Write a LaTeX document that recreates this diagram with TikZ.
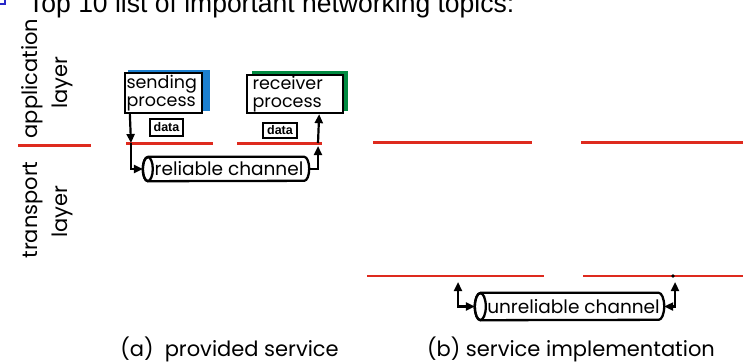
\documentclass[tikz,border=0pt]{standalone}
\usepackage{fontspec}
\setmainfont{Poppins}
\newfontfamily\titlefont{Liberation Sans}
\newfontfamily\datafont{Liberation Sans}
\usetikzlibrary{arrows.meta}

\definecolor{layerred}{RGB}{222,42,30}
\definecolor{procblue}{RGB}{28,128,208}
\definecolor{procgreen}{RGB}{0,138,64}
\definecolor{bulletblue}{RGB}{40,40,200}

\begin{document}
\begin{tikzpicture}[x=1pt,y=-1pt,
  proc/.style={draw=black, line width=2.3pt, fill=white, inner ysep=0pt,
    align=left, font=\fontsize{17.5}{18}\selectfont},
  databox/.style={draw=black, line width=1.8pt, fill=white, inner sep=0pt,
    font=\datafont\bfseries\fontsize{12.5}{12.5}\selectfont},
  chan/.style={inner sep=0pt, font=\fontsize{18.5}{18.5}\selectfont},
  layerlbl/.style={rotate=90, inner sep=0pt, font=\fontsize{21}{21}\selectfont},
  caption/.style={inner sep=0pt, anchor=base, font=\fontsize{21}{21}\selectfont},
  flow/.style={line width=2.2pt, -{Triangle[length=9pt,width=8pt]}},
  flowboth/.style={line width=2.2pt, {Triangle[length=9pt,width=8pt]}-{Triangle[length=9pt,width=8pt]}},
  redline/.style={draw=layerred, line width=3pt},
  tube/.style={line width=2.3pt}
]
\useasboundingbox (0,0) rectangle (743,362);
\clip (0,0) rectangle (743,362);

% heading line of the slide (its upper part runs off the top edge)
\draw[bulletblue, line width=1.4pt] (0,4) -- (5,4) -- (5,-2);
\node[anchor=base west, inner sep=0pt, font=\titlefont\fontsize{26.5}{26.5}\selectfont]
  (title) at (28,12.5) {Top 10 list of important networking topics:};

% layer labels
\node[layerlbl] (applbl) at (32.5,78.5) {application};
\node[layerlbl] (applyr) at (62,82.5)   {layer};
\node[layerlbl] (trnlbl) at (33,210)    {transport};
\node[layerlbl] (trnlyr) at (62,211.5)  {layer};

% application / transport boundary lines
\draw[redline] (18,145) -- (91,145);
\coordinate (aL1) at (126,143);
\coordinate (aL2) at (213,143);
\coordinate (aR1) at (237,143);
\coordinate (aR2) at (322,143);
\draw[redline] (aL1) -- (aL2);
\draw[redline] (aR1) -- (aR2);
\draw[redline] (373,142) -- (532,142);
\draw[redline] (581,142) -- (743,142);
\draw[draw=layerred, line width=1.5pt] (367,276) -- (544,276);
\draw[draw=layerred, line width=2.6pt] (583,276) -- (743,276);

% processes with coloured backing
\fill[procblue]  (128,70) rectangle (210,111);
\node[proc, inner xsep=1.5pt, text width=74pt, minimum height=40pt] (sp) at (163.5,93)
  {sending\\process};
\fill[procgreen] (252,71) rectangle (348,111);
\node[proc, inner xsep=5.5pt, text width=85pt, minimum height=38pt] (rp) at (295,94)
  {receiver\\process};

% data units
\node[databox, minimum width=33pt, minimum height=17pt] (sd) at (166.5,127.5) {data};
\node[databox, minimum width=34pt, minimum height=15pt] (rd) at (280,130.5) {data};

% reliable channel tube
\node[chan, minimum width=166pt, minimum height=24pt] (rc) at (226,169) {\hspace{6pt}reliable channel};
\draw[tube] ([xshift=5pt]rc.north west) -- ([xshift=-5pt]rc.north east)
  arc[start angle=90, end angle=-90, x radius=5pt, y radius=12pt]
  -- ([xshift=5pt]rc.south west)
  arc[start angle=270, end angle=90, x radius=5pt, y radius=12pt];
\draw[tube] ([xshift=5pt]rc.west) ellipse [x radius=5pt, y radius=12pt];

% unreliable channel tube
\node[chan, minimum width=189pt, minimum height=27pt] (uc) at (569.5,306.5) {\hspace{8pt}unreliable channel};
\draw[tube] ([xshift=5.5pt]uc.north west) -- ([xshift=-5.5pt]uc.north east)
  arc[start angle=90, end angle=-90, x radius=5.5pt, y radius=13.5pt]
  -- ([xshift=5.5pt]uc.south west)
  arc[start angle=270, end angle=90, x radius=5.5pt, y radius=13.5pt];
\draw[tube] ([xshift=5.5pt]uc.west) ellipse [x radius=5.5pt, y radius=13.5pt];

% flows for the provided service
\coordinate (sendtap) at (131,143);
\coordinate (recvtap) at (318,146);
\coordinate (recvup)  at (318,143);
\draw[flow] ([xshift=6pt]sp.south west) -- (sendtap);
\draw[flow] (sendtap) |- (rc.west);
\draw[flow] (rc.east) -| (recvtap);
\draw[flow] (recvup) -- ([xshift=-25pt]rp.south east);

% flows for the implementation
\coordinate (uleft)  at (458,282);
\coordinate (uright) at (675,282);
\draw[flowboth] (uleft) |- (uc.west);
\draw[flowboth] (uright) |- (uc.east);
\fill (673,276) circle (1.8pt);

% captions
\node[caption] (capa) at (229.5,356) {(a)\ \ provided service};
\node[caption] (capb) at (571,356) {(b) service implementation};
\end{tikzpicture}
\end{document}
